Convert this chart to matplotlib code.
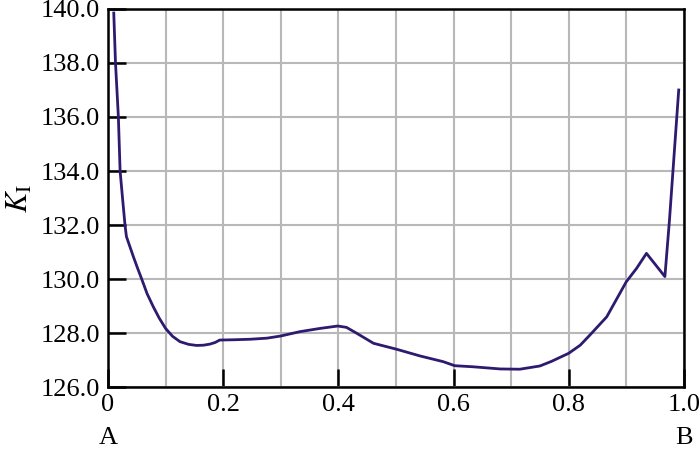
import matplotlib.pyplot as plt
from matplotlib.ticker import MultipleLocator

# position along A-B (normalised) and K_I values
pos = [0.010, 0.013, 0.018, 0.021, 0.0255, 0.0295, 0.032, 0.038, 0.044, 0.051,
       0.0585, 0.068, 0.0787, 0.089, 0.100, 0.112, 0.125, 0.140, 0.154, 0.166,
       0.177, 0.186, 0.194, 0.217, 0.247, 0.276, 0.300, 0.333, 0.368, 0.399,
       0.414, 0.432, 0.461, 0.501, 0.542, 0.582, 0.602, 0.634, 0.681, 0.715,
       0.750, 0.770, 0.800, 0.820, 0.837, 0.866, 0.900, 0.918, 0.935, 0.967,
       0.975, 0.991]
k1 = [139.85, 138.0, 136.0, 134.0, 132.93, 132.0, 131.57, 131.2, 130.83, 130.42,
      130.0, 129.45, 128.97, 128.55, 128.17, 127.88, 127.68, 127.58, 127.54, 127.55,
      127.59, 127.65, 127.74, 127.75, 127.77, 127.81, 127.89, 128.05, 128.17, 128.26,
      128.21, 127.99, 127.62, 127.40, 127.15, 126.94, 126.79, 126.75, 126.67, 126.66,
      126.78, 126.95, 127.25, 127.55, 127.93, 128.6, 129.9, 130.4, 130.95, 130.09,
      132.2, 137.0]

x_ticks = [0, 0.2, 0.4, 0.6, 0.8, 1.0]
x_labels = ['0', '0.2', '0.4', '0.6', '0.8', '1.0']
y_ticks = [126, 128, 130, 132, 134, 136, 138, 140]

plt.rcParams['font.family'] = ['Liberation Serif', 'DejaVu Serif']
plt.rcParams['mathtext.fontset'] = 'stix'

fig = plt.figure(figsize=(7, 4.49), dpi=100)
ax = fig.add_axes([0.1543, 0.138, 0.8227, 0.842])

ax.plot(pos, k1, color='#2e1a6e', lw=2, solid_joinstyle='round')

ax.set_xlim(0, 1.0)
ax.set_ylim(126, 140)
ax.set_xticks(x_ticks)
ax.set_xticklabels(x_labels)
ax.set_yticks(y_ticks)
ax.set_yticklabels(['%.1f' % v for v in y_ticks])
ax.xaxis.set_minor_locator(MultipleLocator(0.1))
ax.grid(True, which='both', color='#b8b8b8', lw=1.5)
ax.set_axisbelow(True)
ax.tick_params(axis='both', which='major', direction='in', length=13, width=1.8,
               labelsize=19, colors='black')
ax.tick_params(axis='x', which='minor', length=0)
ax.tick_params(axis='x', pad=5)
ax.tick_params(axis='y', pad=6)
for s in ax.spines.values():
    s.set_linewidth(1.8)

ax.set_ylabel(r'$K_{\mathrm{I}}$', fontsize=22, labelpad=4)

ax.text(0, -0.106, 'A', transform=ax.transAxes, ha='center', va='top', fontsize=19)
ax.text(1.0, -0.106, 'B', transform=ax.transAxes, ha='center', va='top', fontsize=19)

fig.savefig('out.png', dpi=100)
